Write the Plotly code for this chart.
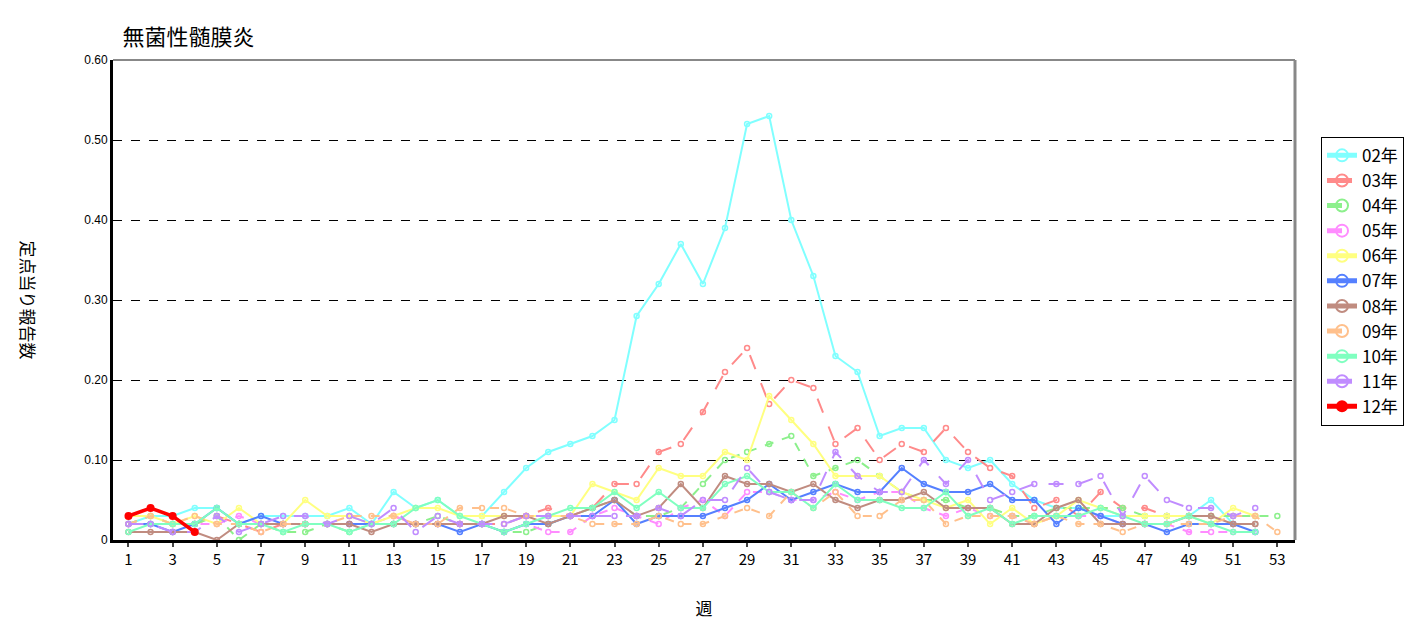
import plotly.graph_objects as go

weeks = list(range(1, 54))

y02 = [0.02, 0.03, 0.03, 0.04, 0.04, 0.02, 0.03, 0.03, 0.03, 0.03, 0.04, 0.02, 0.06, 0.04, 0.05, 0.03, 0.03, 0.06, 0.09, 0.11,
       0.12, 0.13, 0.15, 0.28, 0.32, 0.37, 0.32, 0.39, 0.52, 0.53, 0.40, 0.33, 0.23, 0.21, 0.13, 0.14, 0.14, 0.10, 0.09, 0.10,
       0.07, 0.05, 0.04, 0.04, 0.03, 0.03, 0.03, 0.03, 0.03, 0.05, 0.02, 0.02]
y03 = [0.02, 0.02, 0.02, 0.02, 0.03, 0.02, 0.01, 0.02, 0.02, 0.02, 0.02, 0.02, 0.03, 0.02, 0.02, 0.02, 0.02, 0.02, 0.03, 0.04,
       0.03, 0.04, 0.07, 0.07, 0.11, 0.12, 0.16, 0.21, 0.24, 0.17, 0.20, 0.19, 0.12, 0.14, 0.10, 0.12, 0.11, 0.14, 0.11, 0.09,
       0.08, 0.04, 0.05, 0.03, 0.06, 0.04, 0.04, 0.03, 0.03, 0.03, 0.02, 0.02]
y04 = [0.02, 0.03, 0.02, 0.02, 0.03, 0.00, 0.02, 0.01, 0.01, 0.02, 0.01, 0.02, 0.02, 0.02, 0.03, 0.02, 0.02, 0.01, 0.01, 0.02,
       0.03, 0.04, 0.05, 0.03, 0.03, 0.04, 0.07, 0.10, 0.11, 0.12, 0.13, 0.08, 0.09, 0.10, 0.08, 0.06, 0.05, 0.05, 0.04, 0.04,
       0.03, 0.03, 0.04, 0.04, 0.04, 0.04, 0.03, 0.03, 0.03, 0.03, 0.03, 0.03, 0.03]
y05 = [0.02, 0.02, 0.02, 0.02, 0.02, 0.03, 0.02, 0.02, 0.02, 0.02, 0.02, 0.02, 0.03, 0.02, 0.02, 0.02, 0.02, 0.01, 0.02, 0.01,
       0.01, 0.03, 0.04, 0.03, 0.02, 0.04, 0.05, 0.03, 0.06, 0.06, 0.05, 0.05, 0.06, 0.05, 0.06, 0.06, 0.04, 0.03, 0.04, 0.03,
       0.03, 0.02, 0.03, 0.03, 0.03, 0.02, 0.02, 0.02, 0.01, 0.01, 0.01, 0.01]
y06 = [0.03, 0.03, 0.02, 0.03, 0.02, 0.04, 0.02, 0.02, 0.05, 0.03, 0.03, 0.02, 0.03, 0.04, 0.04, 0.03, 0.03, 0.03, 0.03, 0.03,
       0.03, 0.07, 0.06, 0.05, 0.09, 0.08, 0.08, 0.11, 0.10, 0.18, 0.15, 0.12, 0.08, 0.08, 0.08, 0.06, 0.05, 0.04, 0.05, 0.02,
       0.04, 0.02, 0.03, 0.05, 0.04, 0.03, 0.03, 0.03, 0.03, 0.02, 0.04, 0.03]
y07 = [0.02, 0.02, 0.01, 0.02, 0.04, 0.02, 0.03, 0.02, 0.02, 0.02, 0.02, 0.02, 0.02, 0.02, 0.02, 0.01, 0.02, 0.01, 0.02, 0.02,
       0.03, 0.03, 0.05, 0.02, 0.03, 0.03, 0.03, 0.04, 0.05, 0.07, 0.05, 0.06, 0.07, 0.06, 0.06, 0.09, 0.07, 0.06, 0.06, 0.07,
       0.05, 0.05, 0.02, 0.04, 0.03, 0.02, 0.02, 0.01, 0.02, 0.02, 0.02, 0.01]
y08 = [0.01, 0.01, 0.01, 0.01, 0.00, 0.02, 0.02, 0.02, 0.02, 0.02, 0.02, 0.01, 0.02, 0.02, 0.02, 0.02, 0.02, 0.03, 0.03, 0.02,
       0.03, 0.04, 0.05, 0.03, 0.04, 0.07, 0.04, 0.08, 0.07, 0.07, 0.06, 0.07, 0.05, 0.04, 0.05, 0.05, 0.06, 0.04, 0.04, 0.04,
       0.02, 0.02, 0.04, 0.05, 0.02, 0.02, 0.02, 0.02, 0.03, 0.03, 0.02, 0.02]
y09 = [0.02, 0.03, 0.02, 0.03, 0.02, 0.02, 0.01, 0.02, 0.02, 0.02, 0.03, 0.03, 0.03, 0.02, 0.02, 0.04, 0.04, 0.04, 0.03, 0.03,
       0.03, 0.02, 0.02, 0.02, 0.03, 0.02, 0.02, 0.03, 0.04, 0.03, 0.06, 0.04, 0.06, 0.03, 0.03, 0.05, 0.05, 0.02, 0.03, 0.03,
       0.03, 0.02, 0.03, 0.02, 0.02, 0.01, 0.02, 0.02, 0.02, 0.02, 0.03, 0.03, 0.01]
y10 = [0.01, 0.02, 0.02, 0.02, 0.04, 0.02, 0.02, 0.01, 0.02, 0.02, 0.01, 0.02, 0.02, 0.04, 0.05, 0.03, 0.02, 0.01, 0.02, 0.03,
       0.04, 0.04, 0.06, 0.04, 0.06, 0.04, 0.04, 0.07, 0.08, 0.06, 0.06, 0.04, 0.07, 0.05, 0.05, 0.04, 0.04, 0.06, 0.03, 0.04,
       0.02, 0.03, 0.03, 0.03, 0.04, 0.03, 0.02, 0.02, 0.03, 0.02, 0.01, 0.01]
y11 = [0.02, 0.02, 0.01, 0.01, 0.03, 0.01, 0.02, 0.03, 0.03, 0.02, 0.03, 0.02, 0.04, 0.01, 0.03, 0.02, 0.02, 0.02, 0.03, 0.03,
       0.03, 0.03, 0.03, 0.03, 0.04, 0.03, 0.05, 0.05, 0.09, 0.06, 0.05, 0.05, 0.11, 0.08, 0.06, 0.06, 0.10, 0.07, 0.10, 0.05,
       0.06, 0.07, 0.07, 0.07, 0.08, 0.03, 0.08, 0.05, 0.04, 0.04, 0.03, 0.04]
y12 = [0.03, 0.04, 0.03, 0.01]

series = [
    ("02年", y02, "#80ffff", "solid"),
    ("03年", y03, "#ff8a8a", "longdash"),
    ("04年", y04, "#8cf08c", "dash"),
    ("05年", y05, "#ff8cff", "dash"),
    ("06年", y06, "#ffff80", "solid"),
    ("07年", y07, "#5580ff", "solid"),
    ("08年", y08, "#c08c80", "solid"),
    ("09年", y09, "#ffc08c", "dash"),
    ("10年", y10, "#80ffc0", "solid"),
    ("11年", y11, "#c08cff", "longdash"),
]

fig = go.Figure()
for name, ys, color, dash in series:
    fig.add_trace(go.Scatter(
        x=weeks[:len(ys)], y=ys, name=name, mode="lines+markers",
        line=dict(color=color, width=2, dash=dash),
        marker=dict(symbol="circle-open", size=5, color=color, line=dict(width=1.5)),
    ))
fig.add_trace(go.Scatter(
    x=weeks[:len(y12)], y=y12, name="12年", mode="lines+markers",
    line=dict(color="#ff0000", width=3.5),
    marker=dict(symbol="circle", size=8, color="#ff0000"),
))

fig.update_layout(
    width=1414, height=621,
    paper_bgcolor="white", plot_bgcolor="white",
    font=dict(family="Noto Sans CJK JP, sans-serif", size=14, color="black"),
    title=dict(text="無菌性髄膜炎", x=0.081, y=0.965, font=dict(size=22)),
    margin=dict(l=105, r=127, t=52, b=89, autoexpand=False),
    xaxis=dict(
        range=[0.3, 53.8], tickvals=list(range(1, 54, 2)), showgrid=False,
        showline=True, linecolor="black", linewidth=3, mirror=False,
        ticks="outside", ticklen=4, tickwidth=2,
        title=dict(text="週", standoff=36), tickfont=dict(size=15),
    ),
    yaxis=dict(
        range=[0, 0.6], tickvals=[0, 0.1, 0.2, 0.3, 0.4, 0.5, 0.6],
        ticktext=["0", "0.10", "0.20", "0.30", "0.40", "0.50", "0.60"],
        showgrid=True, gridcolor="black", griddash="dash", gridwidth=1,
        showline=True, linecolor="black", linewidth=3, zeroline=False,
        tickfont=dict(size=12, family="Arial"),
    ),
    legend=dict(
        x=1.022, y=0.84, xanchor="left", yanchor="top",
        bordercolor="black", borderwidth=1, font=dict(size=17),
        itemsizing="constant", itemwidth=30,
    ),
    annotations=[dict(
        text="定点当り報告数", textangle=90, xref="paper", yref="paper",
        x=-0.083, y=0.5, showarrow=False, font=dict(size=17),
    )],
)
fig.add_shape(type="line", xref="paper", yref="paper", x0=1, x1=1, y0=0, y1=1,
              line=dict(color="#888888", width=3))
fig.add_shape(type="line", xref="paper", yref="paper", x0=0, x1=1, y0=1, y1=1,
              line=dict(color="#888888", width=2))

fig.write_html("out.html")
